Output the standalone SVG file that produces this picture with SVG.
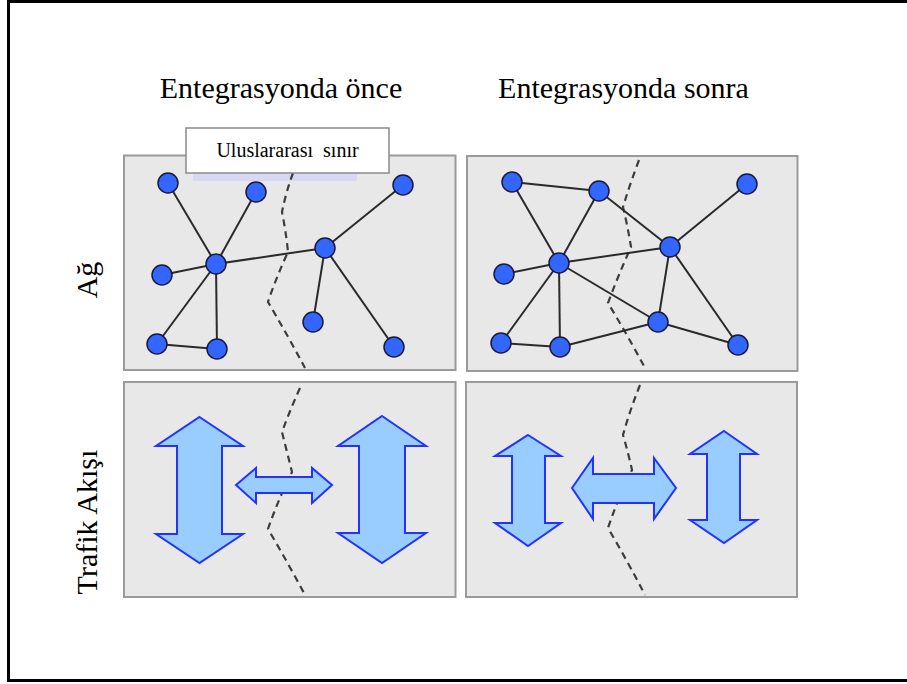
<svg xmlns="http://www.w3.org/2000/svg" width="907" height="684" viewBox="0 0 907 684">
  <style>
    .title { font-family: "Liberation Serif", "Times New Roman", serif; font-size: 30px; fill: #000; }
    .side { font-family: "Liberation Serif", "Times New Roman", serif; font-size: 30px; fill: #000; }
    .tag { font-family: "Liberation Serif", "Times New Roman", serif; font-size: 20px; fill: #000; white-space: pre; }
    .panel { fill: #e8e8e8; stroke: #9a9a9a; stroke-width: 2; }
    .border { fill: none; stroke: #3c3c3c; stroke-width: 2.2; stroke-dasharray: 7 5; stroke-linecap: butt; }
    .edge { stroke: #2a2a2a; stroke-width: 2; fill: none; }
    .node circle { fill: #3366ff; stroke: #1a1a3a; stroke-width: 1.5; }
    .arrow { fill: #99ccff; stroke: #2233ff; stroke-width: 2; stroke-linejoin: miter; }
  </style>

  <!-- outer frame -->
  <rect x="8.5" y="1.5" width="905" height="679" fill="#fff" stroke="#000" stroke-width="3"/>

  <!-- column titles -->
  <text class="title" x="281" y="98" text-anchor="middle">Entegrasyonda önce</text>
  <text class="title" x="623.5" y="98" text-anchor="middle">Entegrasyonda sonra</text>

  <!-- row labels -->
  <text class="side" transform="translate(97,280) rotate(-90)" text-anchor="middle">Ağ</text>
  <text class="side" transform="translate(97,522) rotate(-90)" text-anchor="middle">Trafik Akışı</text>

  <!-- panels -->
  <rect class="panel" x="124" y="155.5" width="331.5" height="214.5"/>
  <rect class="panel" x="467" y="156" width="330.5" height="215"/>
  <rect class="panel" x="124" y="382" width="331.5" height="215"/>
  <rect class="panel" x="466" y="382" width="331" height="215"/>

  <!-- border-line shadow strip -->
  <rect x="193" y="172" width="164" height="9" fill="#d8d8f4"/>

  <!-- border lines -->
  <g id="borders">
    <path class="border" d="M293,173 Q286,192 282,212 Q286,232 288,252 Q276,278 268,302 Q288,336 305,368"/>
    <path class="border" d="M639,160 Q630,184 623,207 Q628,228 631,247 Q618,276 608,303 Q628,336 645,368"/>
    <path class="border" d="M300,388 Q290,410 282,432 Q287,452 292,472 Q278,500 268,529 Q288,563 305,595"/>
    <path class="border" d="M640,385 Q630,410 623,435 Q628,452 632,470 Q618,498 608,528 Q628,562 645,595"/>
  </g>

  <!-- connectors -->
  <g id="connectors">
    <!-- before -->
    <line class="edge" x1="168" y1="183" x2="216" y2="264"/>
    <line class="edge" x1="256" y1="192" x2="216" y2="264"/>
    <line class="edge" x1="162" y1="275" x2="216" y2="264"/>
    <line class="edge" x1="216" y1="264" x2="325" y2="248"/>
    <line class="edge" x1="216" y1="264" x2="157" y2="344"/>
    <line class="edge" x1="216" y1="264" x2="217" y2="349"/>
    <line class="edge" x1="157" y1="344" x2="217" y2="349"/>
    <line class="edge" x1="325" y1="248" x2="403" y2="185"/>
    <line class="edge" x1="325" y1="248" x2="313" y2="322"/>
    <line class="edge" x1="325" y1="248" x2="394" y2="347"/>
    <!-- after -->
    <line class="edge" x1="512" y1="182" x2="599" y2="191"/>
    <line class="edge" x1="512" y1="182" x2="559" y2="263"/>
    <line class="edge" x1="599" y1="191" x2="559" y2="263"/>
    <line class="edge" x1="599" y1="191" x2="670" y2="247"/>
    <line class="edge" x1="747" y1="184" x2="670" y2="247"/>
    <line class="edge" x1="504" y1="274" x2="559" y2="263"/>
    <line class="edge" x1="559" y1="263" x2="670" y2="247"/>
    <line class="edge" x1="559" y1="263" x2="658" y2="322"/>
    <line class="edge" x1="559" y1="263" x2="501" y2="343"/>
    <line class="edge" x1="559" y1="263" x2="560" y2="347"/>
    <line class="edge" x1="501" y1="343" x2="560" y2="347"/>
    <line class="edge" x1="560" y1="347" x2="658" y2="322"/>
    <line class="edge" x1="670" y1="247" x2="658" y2="322"/>
    <line class="edge" x1="670" y1="247" x2="738" y2="345"/>
    <line class="edge" x1="658" y1="322" x2="738" y2="345"/>
  </g>

  <!-- network nodes, before -->
  <g id="b1" class="node"><circle cx="168" cy="183" r="10"/></g>
  <g id="b2" class="node"><circle cx="256" cy="192" r="10"/></g>
  <g id="b3" class="node"><circle cx="403" cy="185" r="10"/></g>
  <g id="b4" class="node"><circle cx="216" cy="264" r="10"/></g>
  <g id="b5" class="node"><circle cx="162" cy="275" r="10"/></g>
  <g id="b6" class="node"><circle cx="325" cy="248" r="10"/></g>
  <g id="b7" class="node"><circle cx="313" cy="322" r="10"/></g>
  <g id="b8" class="node"><circle cx="157" cy="344" r="10"/></g>
  <g id="b9" class="node"><circle cx="217" cy="349" r="10"/></g>
  <g id="b10" class="node"><circle cx="394" cy="347" r="10"/></g>

  <!-- network nodes, after -->
  <g id="a1" class="node"><circle cx="512" cy="182" r="10"/></g>
  <g id="a2" class="node"><circle cx="599" cy="191" r="10"/></g>
  <g id="a3" class="node"><circle cx="747" cy="184" r="10"/></g>
  <g id="a4" class="node"><circle cx="559" cy="263" r="10"/></g>
  <g id="a5" class="node"><circle cx="504" cy="274" r="10"/></g>
  <g id="a6" class="node"><circle cx="670" cy="247" r="10"/></g>
  <g id="a7" class="node"><circle cx="658" cy="322" r="10"/></g>
  <g id="a8" class="node"><circle cx="501" cy="343" r="10"/></g>
  <g id="a9" class="node"><circle cx="560" cy="347" r="10"/></g>
  <g id="a10" class="node"><circle cx="738" cy="345" r="10"/></g>

  <!-- label box -->
  <g id="label-border">
    <rect x="186" y="128" width="203" height="45" fill="#fff" stroke="#8a8a8a" stroke-width="1.5"/>
    <text class="tag" x="287.5" y="157" text-anchor="middle">Uluslararası  sınır</text>
  </g>

  <!-- traffic arrows, before -->
  <g id="flow-b-left"><polygon class="arrow" points="199.5,417 243,446 222,446 222,534 243,534 199.5,563 156,534 177,534 177,446 156,446"/></g>
  <g id="flow-b-right"><polygon class="arrow" points="382,416 426,446 405,446 405,533 426,533 382,563 338,533 359,533 359,446 338,446"/></g>
  <g id="flow-b-mid"><polygon class="arrow" points="236,485 256,468 256,477 312,477 312,468 332,485 312,503 312,493 256,493 256,503"/></g>

  <!-- traffic arrows, after -->
  <g id="flow-a-left"><polygon class="arrow" points="528,435 561,456 545,456 545,523 561,523 528,546 495,523 512,523 512,456 495,456"/></g>
  <g id="flow-a-right"><polygon class="arrow" points="724,431 757,454 740,454 740,520 757,520 724,543 690,520 707,520 707,454 690,454"/></g>
  <g id="flow-a-mid"><polygon class="arrow" points="572,488 593,458 593,474 654,474 654,458 676,488 654,519 654,503 593,503 593,519"/></g>
</svg>
